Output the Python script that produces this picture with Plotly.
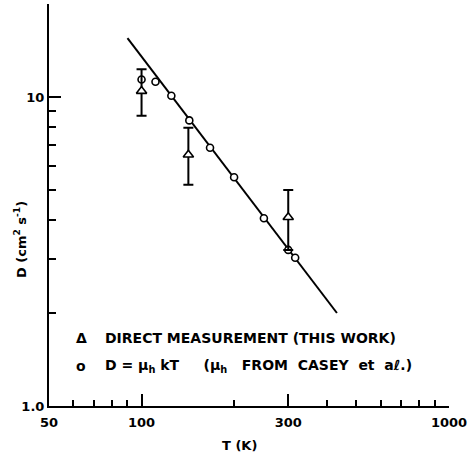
import plotly.graph_objects as go

# Data: D = mu_h kT (circles)
T_calc = [100, 111, 125, 143, 167, 200, 250, 300, 316]
D_calc = [11.4, 11.2, 10.1, 8.4, 6.85, 5.5, 4.05, 3.2, 3.02]

# Direct measurement (triangles) with error bars
T_meas = [100, 142, 300]
D_meas = [10.45, 6.5, 4.08]
D_meas_hi = [12.3, 7.95, 5.0]
D_meas_lo = [8.7, 5.2, 3.2]

# Fitted line endpoints
T_line = [90, 432]
D_line = [15.5, 2.0]

# Axis ticks
x_major = [50, 100, 300, 1000]
x_major_text = ["<b>50</b>", "<b>100</b>", "<b>300</b>", "<b>1000</b>"]
x_minor = [60, 70, 80, 90, 200, 400, 500, 600, 700, 800, 900]
y_major = [1, 10]
y_major_text = ["<b>1.0</b>", "<b>10</b>"]
y_minor = [2, 3, 4, 5, 6, 7, 8, 9, 20]

FONT = "DejaVu Sans"
W, H = 471, 457
L, R, T, B = 48.5, 18.5, 3.7, 51.3
pw, ph = W - L - R, H - T - B

def px(x):
    return (x - L) / pw

def py(y):
    return (H - B - y) / ph

fig = go.Figure()

fig.add_trace(go.Scatter(
    x=T_line, y=D_line, mode="lines",
    line=dict(color="black", width=2), showlegend=False, hoverinfo="skip"))

fig.add_trace(go.Scatter(
    x=T_calc, y=D_calc, mode="markers",
    marker=dict(symbol="circle", size=7, color="white",
                line=dict(color="black", width=1.6)),
    showlegend=False))

fig.add_trace(go.Scatter(
    x=T_meas, y=D_meas, mode="markers",
    marker=dict(symbol="triangle-up", size=9, color="white",
                line=dict(color="black", width=1.6)),
    error_y=dict(type="data", symmetric=False,
                 array=[h - v for h, v in zip(D_meas_hi, D_meas)],
                 arrayminus=[v - l for l, v in zip(D_meas_lo, D_meas)],
                 color="black", thickness=2, width=5),
    showlegend=False))

fig.update_xaxes(
    type="log", range=[1.69897, 3.0], showgrid=False, zeroline=False,
    showline=True, linecolor="black", linewidth=2, mirror=False,
    tickmode="array", tickvals=x_major, ticktext=x_major_text,
    ticks="inside", ticklen=12, tickwidth=2, tickcolor="black",
    ticklabelstandoff=3,
    tickfont=dict(family=FONT, size=13, color="black"),
    minor=dict(tickmode="array", tickvals=x_minor, ticks="inside",
               ticklen=6, tickwidth=1.6, tickcolor="black", showgrid=False),
)
fig.update_yaxes(
    type="log", range=[0.0, 1.30103], showgrid=False, zeroline=False,
    showline=True, linecolor="black", linewidth=2, mirror=False,
    tickmode="array", tickvals=y_major, ticktext=y_major_text,
    ticks="inside", ticklen=12, tickwidth=2, tickcolor="black",
    tickfont=dict(family=FONT, size=13, color="black"),
    minor=dict(tickmode="array", tickvals=y_minor, ticks="inside",
               ticklen=7, tickwidth=1.6, tickcolor="black", showgrid=False),
)

anns = [
    dict(x=px(74), y=py(338), text="<b>Δ</b>"),
    dict(x=px(103), y=py(338), text="<b>DIRECT MEASUREMENT (THIS WORK)</b>"),
    dict(x=px(74), y=py(366), text="<b>o</b>"),
    dict(x=px(103), y=py(366),
         text="<b>D = μ<sub>h</sub> kT     (μ<sub>h</sub>   FROM  CASEY  et  aℓ.)</b>"),
]
for a in anns:
    fig.add_annotation(xref="paper", yref="paper", x=a["x"], y=a["y"],
                       text=a["text"], showarrow=False, xanchor="left",
                       yanchor="middle",
                       font=dict(family=FONT, size=14, color="black"))

fig.add_annotation(xref="paper", yref="paper", x=px(241), y=py(445),
                   text="<b>T (K)</b>", showarrow=False, xanchor="center",
                   yanchor="middle",
                   font=dict(family=FONT, size=13, color="black"))
fig.add_annotation(xref="paper", yref="paper", x=px(20), y=py(239),
                   text="<b>D (cm<sup>2</sup> s<sup>-1</sup>)</b>", showarrow=False,
                   textangle=-90, xanchor="center", yanchor="middle",
                   font=dict(family=FONT, size=13, color="black"))

fig.update_layout(
    width=W, height=H,
    margin=dict(l=L, r=R, t=T, b=B),
    paper_bgcolor="white", plot_bgcolor="white",
    showlegend=False,
)

fig.write_html("out.html")
